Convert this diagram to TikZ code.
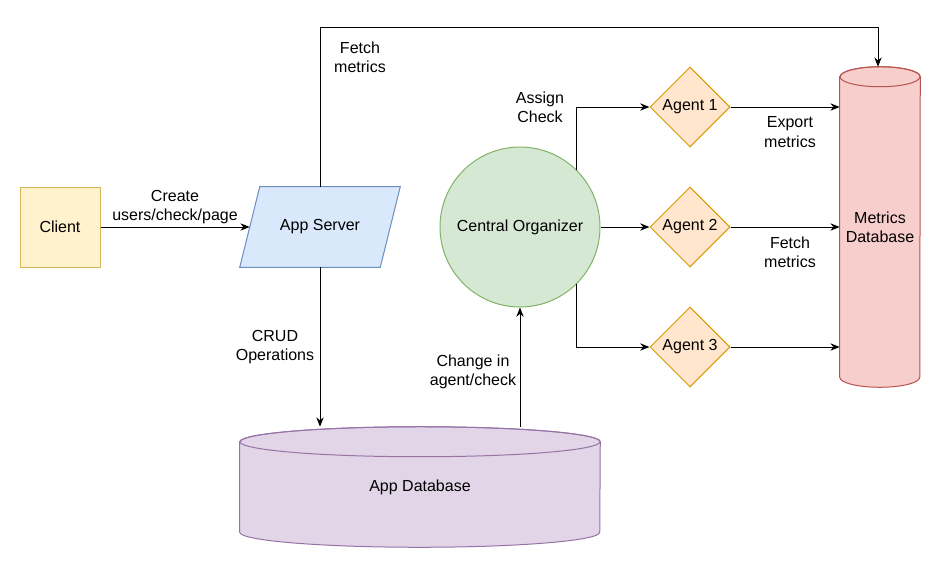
\documentclass[tikz,border=0pt]{standalone}
\usepackage{fontspec}
\setmainfont{Liberation Sans}
\usetikzlibrary{shapes.geometric,arrows.meta,calc}
\definecolor{cliF}{HTML}{FFF2CC}\definecolor{cliD}{HTML}{D6B656}
\definecolor{srvF}{HTML}{DAE8FC}\definecolor{srvD}{HTML}{6C8EBF}
\definecolor{coF}{HTML}{D5E8D4}\definecolor{coD}{HTML}{82B366}
\definecolor{agF}{HTML}{FFE6CC}\definecolor{agD}{HTML}{D79B00}
\definecolor{mdbF}{HTML}{F8CECC}\definecolor{mdbD}{HTML}{B85450}
\definecolor{adbF}{HTML}{E1D5E7}\definecolor{adbD}{HTML}{9673A6}
\begin{document}
\begin{tikzpicture}[x=0.75pt,y=-0.75pt,
  font=\fontsize{12}{14.4}\selectfont,
  shp/.style={line width=0.75pt},
  clientbox/.style={shp,rectangle,minimum width=60pt,minimum height=60pt,fill=cliF,draw=cliD},
  srvbox/.style={rectangle,minimum width=105pt,minimum height=60pt,inner sep=0pt},
  orgbox/.style={shp,circle,minimum size=120pt,inner sep=0pt,fill=coF,draw=coD},
  agentbox/.style={shp,diamond,aspect=1,minimum width=60pt,minimum height=60pt,inner sep=0pt,fill=agF,draw=agD},
  lbl/.style={align=center,inner sep=0pt},
  conn/.style={line width=0.75pt,-{Stealth[length=7pt,width=5.5pt]}},
  plain/.style={line width=0.75pt}
]
\useasboundingbox (0,0) rectangle (941,568);
\fill[white] (0,0) rectangle (941,568);

% nodes
\node[clientbox] (cli) at (60,227) {Client};
\node[srvbox] (srv) at (320,227) {};
\path[shp,fill=srvF,draw=srvD] ($(srv.south west)+(-10,0)$) -- ($(srv.north west)+(10,0)$)
   -- ($(srv.north east)+(10,0)$) -- ($(srv.south east)+(-10,0)$) -- cycle;
\node[lbl] (srvt) at (srv.center) {App Server};
\node[orgbox] (co) at (520,227) {Central Organizer};
\node[agentbox] (a1) at (690,107) {Agent 1};
\node[agentbox] (a2) at (690,227) {Agent 2};
\node[agentbox] (a3) at (690,347) {Agent 3};

% Metrics Database cylinder
\node[minimum width=60pt,minimum height=225pt,inner sep=0pt] (mdb) at (880,227) {};
\path[shp,fill=mdbF,draw=mdbD] (mdb.north west) -- (mdb.south west)
   arc[start angle=180,end angle=0,x radius=40,y radius=10] -- (mdb.north east)
   arc[start angle=0,end angle=-180,x radius=40,y radius=10] -- cycle;
\draw[shp,draw=mdbD] (mdb.north) ellipse[x radius=40,y radius=10];
\node[lbl] (mdbt) at (mdb.center) {Metrics\\Database};
\coordinate (mdbtop) at ($(mdb.north)+(-2,-10)$);

% App Database cylinder
\node[minimum width=270pt,minimum height=67.5pt,inner sep=0pt] (adb) at (420,487) {};
\path[shp,fill=adbF,draw=adbD] (adb.north west) -- (adb.south west)
   arc[start angle=180,end angle=0,x radius=180,y radius=15] -- (adb.north east)
   arc[start angle=0,end angle=-180,x radius=180,y radius=15] -- cycle;
\draw[shp,draw=adbD] (adb.north) ellipse[x radius=180,y radius=15];
\node[lbl] (adbt) at (adb.center) {App Database};
\coordinate (adbtop) at ($(adb.north)+(0,-15)$);

% connectors
\draw[conn] (cli) -- (srv);
\draw[conn] (srv.north) -- (srv.north |- 0,27) -| (mdbtop);
\draw[conn] (srv.south) -- (srv.south |- adbtop);
\draw[conn] (co.south |- adbtop) -- (co.south);
\draw[conn] (co.45) |- (a1);
\draw[conn] (co) -- (a2);
\draw[conn] (co.-45) |- (a3);
\draw[conn] (a1) -- (a1 -| mdb.west);
\draw[conn] (a2) -- (a2 -| mdb.west);
\draw[conn] (a3) -- (a3 -| mdb.west);

% labels
\node[lbl] (l1) at (175,207) {Create\\users/check/page};
\node[lbl] (l2) at (360,57) {Fetch\\metrics};
\node[lbl] (l3) at (275,347) {CRUD\\Operations};
\node[lbl] (l4) at (473,372) {Change in\\agent/check};
\node[lbl] (l5) at (540,107) {Assign\\Check};
\node[lbl] (l6) at (790,132) {Export\\metrics};
\node[lbl] (l7) at (790,252) {Fetch\\metrics};
\end{tikzpicture}
\end{document}
